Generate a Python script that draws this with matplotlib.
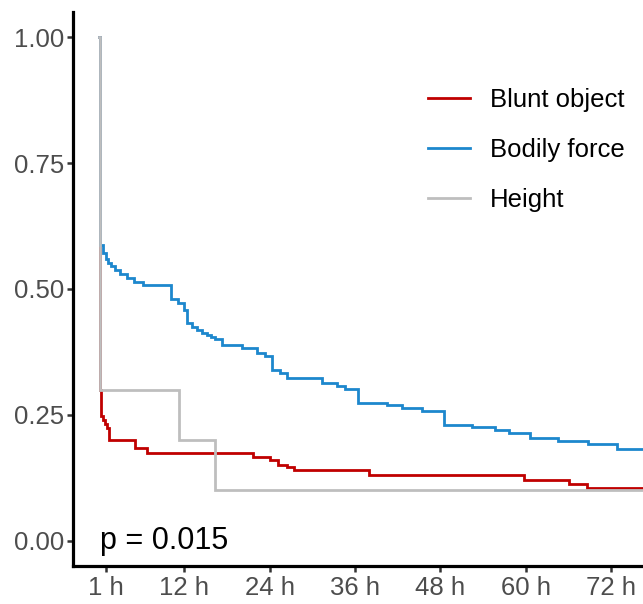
import matplotlib.pyplot as plt

# Kaplan-Meier step data (time in hours, survival)
blunt_t = [0, 0.15, 0.3, 0.6, 0.9, 1.1, 1.35, 5.1, 6.7, 21.7, 24.1, 25.2, 26.5, 27.4,
           38.0, 59.7, 66.1, 68.6, 76.5]
blunt_s = [1.0, 0.300, 0.247, 0.240, 0.232, 0.224, 0.200, 0.184, 0.174, 0.166, 0.161,
           0.151, 0.146, 0.141, 0.131, 0.121, 0.113, 0.105, 0.105]

bodily_t = [0, 0.2, 0.63, 1.0, 1.34, 1.7, 2.28, 3.0, 3.9, 4.95, 6.26, 10.15, 11.1, 12.0,
            12.4, 13.1, 13.8, 14.5, 15.2, 15.8, 16.3, 17.3, 20.1, 22.2, 23.4, 24.3, 25.5,
            26.4, 31.4, 33.5, 34.6, 36.4, 40.5, 42.6, 45.4, 48.5, 52.4, 55.7, 57.6, 60.6,
            64.6, 68.8, 72.8, 76.5]
bodily_s = [1.0, 0.587, 0.571, 0.560, 0.551, 0.545, 0.538, 0.530, 0.521, 0.514, 0.508,
            0.481, 0.472, 0.458, 0.432, 0.425, 0.419, 0.413, 0.409, 0.404, 0.400, 0.389,
            0.382, 0.372, 0.366, 0.339, 0.333, 0.323, 0.313, 0.307, 0.301, 0.274, 0.269,
            0.263, 0.258, 0.230, 0.226, 0.220, 0.215, 0.204, 0.198, 0.192, 0.183, 0.183]

height_t = [0, 0.17, 11.2, 16.3, 76.5]
height_s = [1.0, 0.3, 0.2, 0.1, 0.1]

groups = ['Blunt object', 'Bodily force', 'Height']
colors = ['#C00000', '#1D87CD', '#BEBEBE']

x_ticks = [1, 12, 24, 36, 48, 60, 72]
x_labels = ['1 h', '12 h', '24 h', '36 h', '48 h', '60 h', '72 h']
y_ticks = [0, 0.25, 0.5, 0.75, 1.0]
y_labels = ['0.00', '0.25', '0.50', '0.75', '1.00']
p_text = 'p = 0.015'

plt.rcParams['font.family'] = ['Liberation Sans', 'DejaVu Sans']

fig = plt.figure(figsize=(6.43, 6.04), dpi=100)
ax = fig.add_axes([73.3 / 643, 1 - 566 / 604, 1 - 73.3 / 643, (566 - 12) / 604])

data = [(blunt_t, blunt_s), (bodily_t, bodily_s), (height_t, height_s)]
for (t, s), name, c in zip(data, groups, colors):
    ax.step(t, s, where='post', color=c, lw=2.0, label=name, solid_joinstyle='miter')

ax.set_xlim(-3.6, 76.5)
ax.set_ylim(-0.05, 1.05)
ax.set_xticks(x_ticks)
ax.set_xticklabels(x_labels)
ax.set_yticks(y_ticks)
ax.set_yticklabels(y_labels)

for side in ['top', 'right']:
    ax.spines[side].set_visible(False)
for side in ['left', 'bottom']:
    ax.spines[side].set_linewidth(2.3)
    ax.spines[side].set_color('black')

ax.tick_params(axis='both', direction='out', length=4, width=1.8, color='#333333',
               labelcolor='#4D4D4D', labelsize=18.5)
ax.tick_params(axis='x', pad=3)
ax.tick_params(axis='y', pad=2.5)

ax.text(0.2, 0.0, p_text, ha='left', va='center', fontsize=22, color='black')

leg = ax.legend(loc='upper left', bbox_to_anchor=(428 / 643, 1 - 88 / 604),
                bbox_transform=fig.transFigure, frameon=False, fontsize=18.5,
                borderpad=0, borderaxespad=0, handlelength=1.65, handletextpad=0.75,
                labelspacing=1.01)

fig.savefig('out.png', dpi=100)
